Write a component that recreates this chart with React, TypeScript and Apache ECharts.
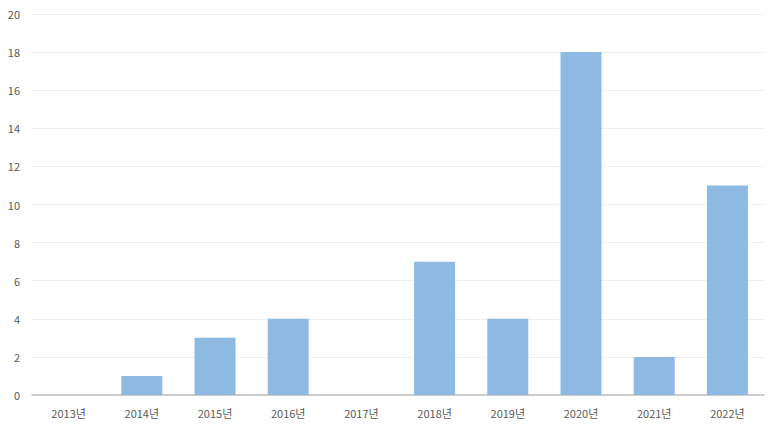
import React, { useEffect, useRef } from "react";
import * as echarts from "echarts";

const categories = ["2013년", "2014년", "2015년", "2016년", "2017년", "2018년", "2019년", "2020년", "2021년", "2022년"];
const values = [0, 1, 3, 4, 0, 7, 4, 18, 2, 11];

export default function App() {
  const ref = useRef<HTMLDivElement>(null);
  useEffect(() => {
    const chart = echarts.init(ref.current!, undefined, { renderer: "svg" });
    chart.setOption({
      animation: false,
      grid: { left: 32, right: 14, top: 14, bottom: 31, containLabel: false },
      xAxis: {
        type: "category",
        data: categories,
        axisLine: { lineStyle: { color: "#bfbfbf", width: 1.5 } },
        axisTick: { show: false },
        axisLabel: { color: "#595959", fontSize: 11, fontFamily: "Noto Sans CJK KR", margin: 12 },
      },
      yAxis: {
        type: "value",
        min: 0,
        max: 20,
        interval: 2,
        axisLine: { show: false },
        axisTick: { show: false },
        splitLine: { lineStyle: { color: "#f0f0f0" } },
        axisLabel: { color: "#595959", fontSize: 11, fontFamily: "Noto Sans CJK KR", margin: 12 },
      },
      series: [
        {
          type: "bar",
          data: values,
          barWidth: "56%",
          itemStyle: { color: "#8db9e2" },
        },
      ],
    });
    return () => chart.dispose();
  }, []);
  return <div ref={ref} style={{ width: 778, height: 426, position: "absolute", left: 0, top: 0 }} />;
}
